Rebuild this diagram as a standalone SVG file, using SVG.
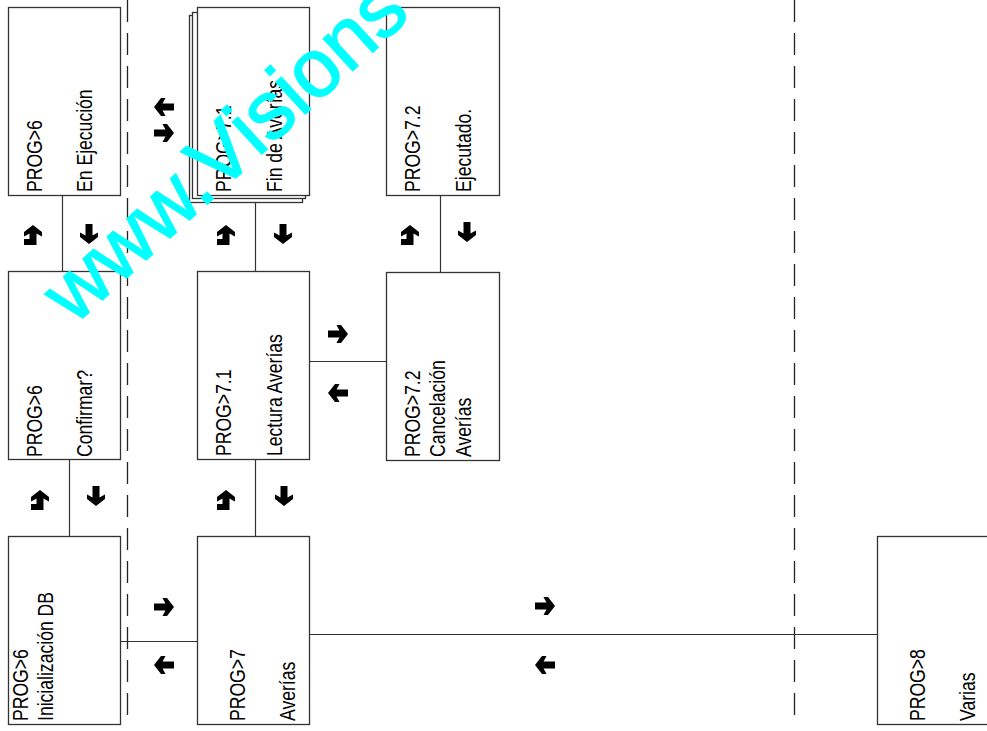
<svg xmlns="http://www.w3.org/2000/svg" width="987" height="731" viewBox="0 0 987 731">
<style>
.box{fill:#fff;stroke:#333;stroke-width:1.3}
.conn{stroke:#333;stroke-width:1.2;fill:none}
.lane{stroke:#222;stroke-width:1.3;stroke-dasharray:22 11;fill:none}
.t{font-family:"Liberation Sans",Arial,sans-serif;font-size:22px;fill:#000}
.wm{font-family:"Liberation Sans",Arial,sans-serif;font-size:82px;fill:#00ffff;stroke:#00ffff;stroke-width:1.5}
</style>
<defs>
<path id="aR" d="M-10,-3.5 L1.5,-3.5 Q0,-6 -1.5,-9 L3,-9 L10,0 L3,9 L-1.5,9 Q0,6 1.5,3.5 L-10,3.5 Z" fill="#000"/>
<g id="aU"><use href="#aR" transform="rotate(-90)"/><rect x="-9" y="4" width="6" height="6" fill="#000"/></g>
<g id="aD"><use href="#aR" transform="rotate(90)"/></g>
<g id="aL"><use href="#aR" transform="rotate(180)"/></g>
</defs>
<rect width="987" height="731" fill="#fff"/>
<g id="lanes">
<line class="lane" x1="127.5" y1="0" x2="127.5" y2="725"/>
<line class="lane" x1="794.5" y1="0" x2="794.5" y2="724"/>
</g>
<g id="connectors">
<line class="conn" x1="62.5" y1="195" x2="62.5" y2="271"/>
<line class="conn" x1="69.5" y1="460" x2="69.5" y2="536"/>
<line class="conn" x1="255.5" y1="202" x2="255.5" y2="271"/>
<line class="conn" x1="255.5" y1="459" x2="255.5" y2="536"/>
<line class="conn" x1="440.5" y1="195" x2="440.5" y2="272"/>
<line class="conn" x1="309" y1="361.5" x2="386" y2="361.5"/>
<line class="conn" x1="120" y1="641.5" x2="197" y2="641.5"/>
<line class="conn" x1="309" y1="634.5" x2="877" y2="634.5"/>
<use href="#aL" transform="translate(164,107)"/>
<use href="#aR" transform="translate(164,133)"/>
<use href="#aU" transform="translate(33,235)"/>
<use href="#aD" transform="translate(89,234)"/>
<use href="#aU" transform="translate(40,500)"/>
<use href="#aD" transform="translate(96,496)"/>
<use href="#aU" transform="translate(226,235)"/>
<use href="#aD" transform="translate(283,234)"/>
<use href="#aU" transform="translate(226,500)"/>
<use href="#aD" transform="translate(284,496)"/>
<use href="#aU" transform="translate(410,235)"/>
<use href="#aD" transform="translate(467,232)"/>
<use href="#aR" transform="translate(338,334)"/>
<use href="#aL" transform="translate(338,393)"/>
<use href="#aR" transform="translate(164,607)"/>
<use href="#aL" transform="translate(164,665)"/>
<use href="#aR" transform="translate(545,606)"/>
<use href="#aL" transform="translate(545,665)"/>
</g>
<g id="n6-ejec">
<rect class="box" x="8.5" y="7.5" width="112" height="188"/>
<text class="t" transform="translate(42,192) rotate(-90) scale(0.8,1)">PROG&gt;6</text>
<text class="t" transform="translate(92,192) rotate(-90) scale(0.8,1)">En Ejecución</text>
</g>
<g id="n6-conf">
<rect class="box" x="8.5" y="271.5" width="112" height="188"/>
<text class="t" transform="translate(42,457) rotate(-90) scale(0.8,1)">PROG&gt;6</text>
<text class="t" transform="translate(92,457) rotate(-90) scale(0.8,1)">Confirmar?</text>
</g>
<g id="n6-init">
<rect class="box" x="8.5" y="536.5" width="112" height="188"/>
<text class="t" transform="translate(28,721) rotate(-90) scale(0.8,1)">PROG&gt;6</text>
<text class="t" transform="translate(53,721) rotate(-90) scale(0.8,1)">Inicialización DB</text>
</g>
<g id="n71-fin">
<rect class="box" x="189.5" y="15.5" width="113" height="187"/>
<rect class="box" x="192.5" y="12.5" width="113" height="186"/>
<rect class="box" x="197.5" y="7.5" width="112" height="188"/>
<text class="t" transform="translate(231,192) rotate(-90) scale(0.8,1)">PROG&gt;7.1</text>
<text class="t" transform="translate(282,192) rotate(-90) scale(0.8,1)">Fin de Averías</text>
</g>
<g id="n71-lect">
<rect class="box" x="197.5" y="271.5" width="112" height="188"/>
<text class="t" transform="translate(231,456) rotate(-90) scale(0.8,1)">PROG&gt;7.1</text>
<text class="t" transform="translate(282,456) rotate(-90) scale(0.8,1)">Lectura Averías</text>
</g>
<g id="n7">
<rect class="box" x="197.5" y="536.5" width="112" height="188"/>
<text class="t" transform="translate(245,721) rotate(-90) scale(0.8,1)">PROG&gt;7</text>
<text class="t" transform="translate(295,721) rotate(-90) scale(0.8,1)">Averías</text>
</g>
<g id="n72-ejec">
<rect class="box" x="386.5" y="7.5" width="113" height="188"/>
<text class="t" transform="translate(420,192) rotate(-90) scale(0.8,1)">PROG&gt;7.2</text>
<text class="t" transform="translate(471,192) rotate(-90) scale(0.8,1)">Ejecutado.</text>
</g>
<g id="n72-canc">
<rect class="box" x="386.5" y="272.5" width="113" height="188"/>
<text class="t" transform="translate(420,457) rotate(-90) scale(0.8,1)">PROG&gt;7.2</text>
<text class="t" transform="translate(445,457) rotate(-90) scale(0.8,1)">Cancelación</text>
<text class="t" transform="translate(471,457) rotate(-90) scale(0.8,1)">Averías</text>
</g>
<g id="n8">
<rect class="box" x="877.5" y="536.5" width="120" height="188"/>
<text class="t" transform="translate(925,721) rotate(-90) scale(0.8,1)">PROG&gt;8</text>
<text class="t" transform="translate(975,721) rotate(-90) scale(0.8,1)">Varias</text>
</g>
<g id="watermark">
<text class="wm" transform="translate(74,326) rotate(-42.5)">www.Visions</text>
</g>
</svg>
